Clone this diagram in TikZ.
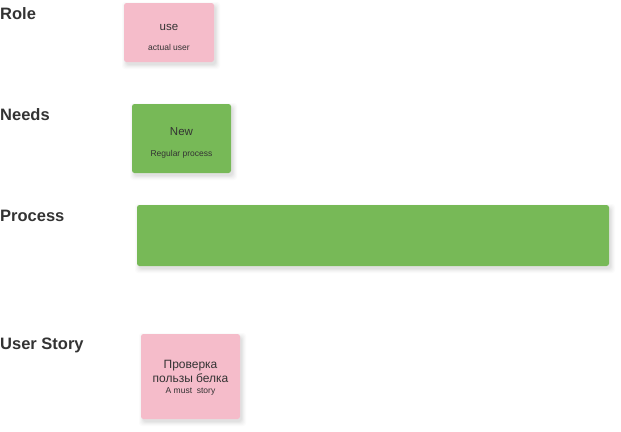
\documentclass[tikz,border=0pt]{standalone}
\usepackage{fontspec}
\setmainfont{Liberation Sans}
\begin{document}
\definecolor{cardpink}{HTML}{F5BCCA}
\definecolor{cardgreen}{HTML}{77B957}
\definecolor{inkgray}{HTML}{333333}
\begin{tikzpicture}[x=1pt,y=-1pt,
  rowlabel/.style={anchor=west,font=\bfseries\fontsize{16.5}{18}\selectfont,text=inkgray,inner sep=0pt},
  card/.style={rounded corners=2.5pt},
  title/.style={font=\fontsize{11.5}{13.5}\selectfont,text=inkgray,inner sep=0pt},
  sub/.style={font=\fontsize{8.5}{10}\selectfont,text=inkgray,inner sep=0pt}]
\useasboundingbox (0,0) rectangle (621,431);
% soft shadow under a card, falling down and to the right
\newcommand{\cardshadow}[4]{%
  \foreach \s/\o in {5/0.015,4/0.02,3/0.025,2/0.03,1/0.03}{%
    \fill[black,opacity=\o,rounded corners=3pt] (#1-\s+3,#2-\s+4) rectangle (#3+\s+1,#4+\s+2);}%
}
% row labels
\node[rowlabel] (lrole) at (0,14) {Role};
\node[rowlabel] (lneeds) at (0,115) {Needs};
\node[rowlabel] (lproc) at (0,216) {Process};
\node[rowlabel] (lstory) at (0,345) {User Story};
% role card
\cardshadow{124}{3}{214}{62}
\fill[card,cardpink] (124,3) rectangle (214,62);
\node[title] (use) at (169,27) {use};
\node[sub] (actual) at (169,47) {actual user};
% needs card
\cardshadow{132}{104}{231}{173}
\fill[card,cardgreen] (132,104) rectangle (231,173);
\node[title] (new) at (181.5,132) {New};
\node[sub] (regular) at (181.5,154) {Regular process};
% process bar
\cardshadow{137}{205}{609}{266}
\fill[card,cardgreen] (137,205) rectangle (609,266);
% user story card
\cardshadow{141}{334}{240}{419}
\fill[card,cardpink] (141,334) rectangle (240,419);
\node[title,align=center,font=\fontsize{12}{13.5}\selectfont] (check) at (190.5,371.5) {Проверка\\пользы белка};
\node[sub] (must) at (190.5,391.5) {A must\ \ story};
\end{tikzpicture}
\end{document}
